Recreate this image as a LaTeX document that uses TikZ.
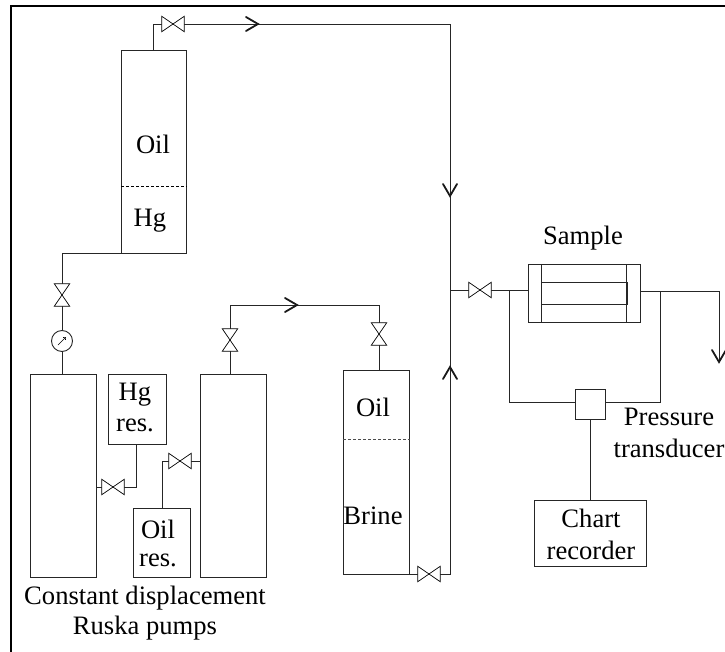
\documentclass[tikz,border=0pt]{standalone}
\usepackage{fontspec}
\usetikzlibrary{arrows.meta}
\setmainfont{Liberation Serif}
\tikzset{
  x=1pt,y=-1pt,
  pipe/.style={line width=0.9pt,draw=black!85},
  vessel/.style={pipe,rectangle,inner sep=0pt,anchor=north west},
  valveh/.style={rectangle,inner sep=0pt,minimum width=22pt,minimum height=15pt},
  valvev/.style={rectangle,inner sep=0pt,minimum width=15pt,minimum height=22pt},
  gaugec/.style={pipe,circle,inner sep=0pt,minimum size=21pt},
  lbl/.style={font=\fontsize{26.6pt}{30pt}\selectfont,inner sep=0pt,text=black},
  chev/.style={line width=1.8pt,draw=black!90,line cap=round},
  level/.style={line width=0.8pt,dash pattern=on 3pt off 2pt}
}
\newcommand{\valveH}[2]{\node[valveh] (#1) at (#2) {};
  \draw[line width=0.7pt] (#1.north west)--(#1.south east)--(#1.north east)--(#1.south west)--cycle;}
\newcommand{\valveV}[2]{\node[valvev] (#1) at (#2) {};
  \draw[line width=0.7pt] (#1.north west)--(#1.north east)--(#1.south west)--(#1.south east)--cycle;}
\newcommand{\chevron}[2]{\draw[chev,shift={(#1)},rotate=#2] (-12pt,-7pt)--(0pt,0pt)--(-12pt,7pt);}
\newcommand{\vessel}[5]{\node[vessel,minimum width=#4pt,minimum height=#5pt,draw] (#1) at (#2,#3) {};}
\begin{document}
\begin{tikzpicture}
\useasboundingbox (0,0) rectangle (725,652);
\draw[line width=2pt] (11,652)--(11,6)--(725,6);
% vessels
\vessel{top}{121}{50}{65}{203}
\vessel{brine}{343}{370}{66}{204}
\vessel{pumpa}{30}{374}{66}{203}
\vessel{pumpb}{200}{374}{66}{203}
\vessel{hgres}{108}{374}{58}{70}
\vessel{oilres}{133}{508}{57}{69}
\vessel{chart}{534}{500}{112}{66}
\vessel{trans}{575}{389}{30}{30}
\vessel{sample}{528}{264}{112}{58}
\node[vessel,draw,minimum width=85.5pt,minimum height=22pt] (core) at (541,282) {};
\draw[pipe] (541,264)--(541,322);
\draw[pipe] (626.5,264)--(626.5,322);
% levels
\draw[level] (top.west |- 0,186) -- (top.east |- 0,186);
\draw[level,draw=black!70] (brine.west |- 0,439) -- (brine.east |- 0,439);
% valves and gauge
\valveH{vtop}{173,24}
\valveH{vbr}{429,574}
\valveH{vs}{480,290}
\valveH{vhg}{113,487}
\valveH{voil}{180,461}
\valveV{vp}{62,295}
\valveV{vq}{230,340}
\valveV{vo}{379,334}
\node[gaugec,draw] (g) at (62,341) {};
\draw[line width=0.6pt,-{Straight Barb[length=2pt,width=3.5pt]}] (58,345)--(66,337);
% pipes
\coordinate (jn) at (450,290);
\coordinate (cnr) at (450,24);
\coordinate (out) at (719,362);
\draw[pipe] (153,50)--(153,24)--(vtop.west);
\draw[pipe] (vtop.east)--(cnr)--(450,574)--(vbr.east);
\draw[pipe] (vbr.west)--(409,574);
\draw[pipe] (jn)--(vs.west);
\draw[pipe] (vs.east)--(528,290);
\draw[pipe] (509,290)--(509,402)--(575,402);
\draw[pipe] (640,291)--(719,291)--(out);
\draw[pipe] (660,291)--(660,402)--(605,402);
\draw[pipe] (trans.south)--(chart.north);
\draw[pipe] (121,253)--(62,253)--(vp.north);
\draw[pipe] (vp.south)--(g.north);
\draw[pipe] (g.south)--(62,374);
\draw[pipe] (96,487)--(vhg.west);
\draw[pipe] (vhg.east)--(136,487)--(136,444);
\draw[pipe] (162,508)--(162,461)--(voil.west);
\draw[pipe] (voil.east)--(200,461);
\draw[pipe] (230,374)--(vq.south);
\draw[pipe] (vq.north)--(230,305)--(379,305)--(vo.north);
\draw[pipe] (vo.south)--(379,370);
% arrows
\chevron{258,24}{0}
\chevron{450,196}{-90}
\chevron{450,367}{90}
\chevron{297,305}{0}
\chevron{719,362}{-90}
% labels
\node[lbl] (t1) at (153,144) {Oil};
\node[lbl] (t2) at (150,221) {Hg};
\node[lbl] (t3) at (373,407) {Oil};
\node[lbl] (t4) at (373,516) {Brine};
\node[lbl] (t5) at (135,395) {Hg};
\node[lbl] (t6) at (135,425) {res.};
\node[lbl] (t7) at (158,529) {Oil};
\node[lbl] (t8) at (158,560) {res.};
\node[lbl] (t9) at (145,598) {Constant displacement};
\node[lbl] (t10) at (145,628) {Ruska pumps};
\node[lbl] (t11) at (583,238) {Sample};
\node[lbl] (t12) at (669,417) {Pressure};
\node[lbl] (t13) at (669,448) {transducer};
\node[lbl] (t14) at (591,518) {Chart};
\node[lbl] (t15) at (591,550) {recorder};
\end{tikzpicture}
\end{document}
